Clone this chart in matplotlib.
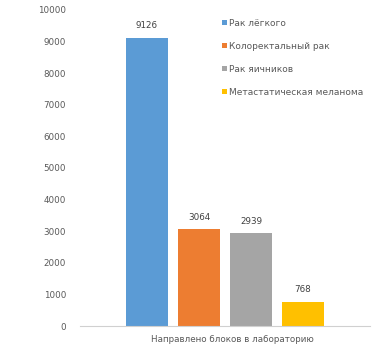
import matplotlib
matplotlib.use("Agg")
import matplotlib.pyplot as plt

categories = ["Рак лёгкого", "Колоректальный рак", "Рак яичников", "Метастатическая меланома"]
values = [9126, 3064, 2939, 768]
colors = ["#5B9BD5", "#ED7D31", "#A5A5A5", "#FFC000"]
yticks = [0, 1000, 2000, 3000, 4000, 5000, 6000, 7000, 8000, 9000, 10000]
xlabel = "Направлено блоков в лабораторию"

plt.rcParams['font.family'] = ['DejaVu Sans']
fig = plt.figure(figsize=(3.91, 3.49), dpi=100)
ax = fig.add_axes([80/391, 1-326/349, 290/391, (326-10)/349])

handles = []
for i, (c, v, col) in enumerate(zip(categories, values, colors)):
    b = ax.bar(i, v, width=0.79, color=col, label=c)
    handles.append(b)
    ax.text(i, v + 230, str(v), ha='center', va='bottom', fontsize=6.3, color='#404040')

ax.set_ylim(0, 10000)
ax.set_xlim(1.5 - 145/52, 1.5 + 145/52)
ax.set_yticks(yticks)
ax.set_yticklabels([str(t) for t in yticks], fontsize=6.3, color='#595959')
ax.tick_params(axis='y', length=0, pad=10)
ax.set_xticks([])
for s in ['left', 'right', 'top']:
    ax.spines[s].set_visible(False)
ax.spines['bottom'].set_color('#D0D0D0')
ax.spines['bottom'].set_linewidth(0.8)
ax.text(1.65, -300, xlabel, ha='center', va='top', fontsize=6.3, color='#595959')

leg = fig.legend(handles=handles, labels=categories, loc='upper left',
                 bbox_to_anchor=(218/391, 1-15/349), frameon=False,
                 fontsize=6.5, handlelength=0.55, handleheight=0.55,
                 handletextpad=0.3, labelspacing=1.55, borderaxespad=0)
for t in leg.get_texts():
    t.set_color('#595959')

fig.savefig("out.png", dpi=100)
